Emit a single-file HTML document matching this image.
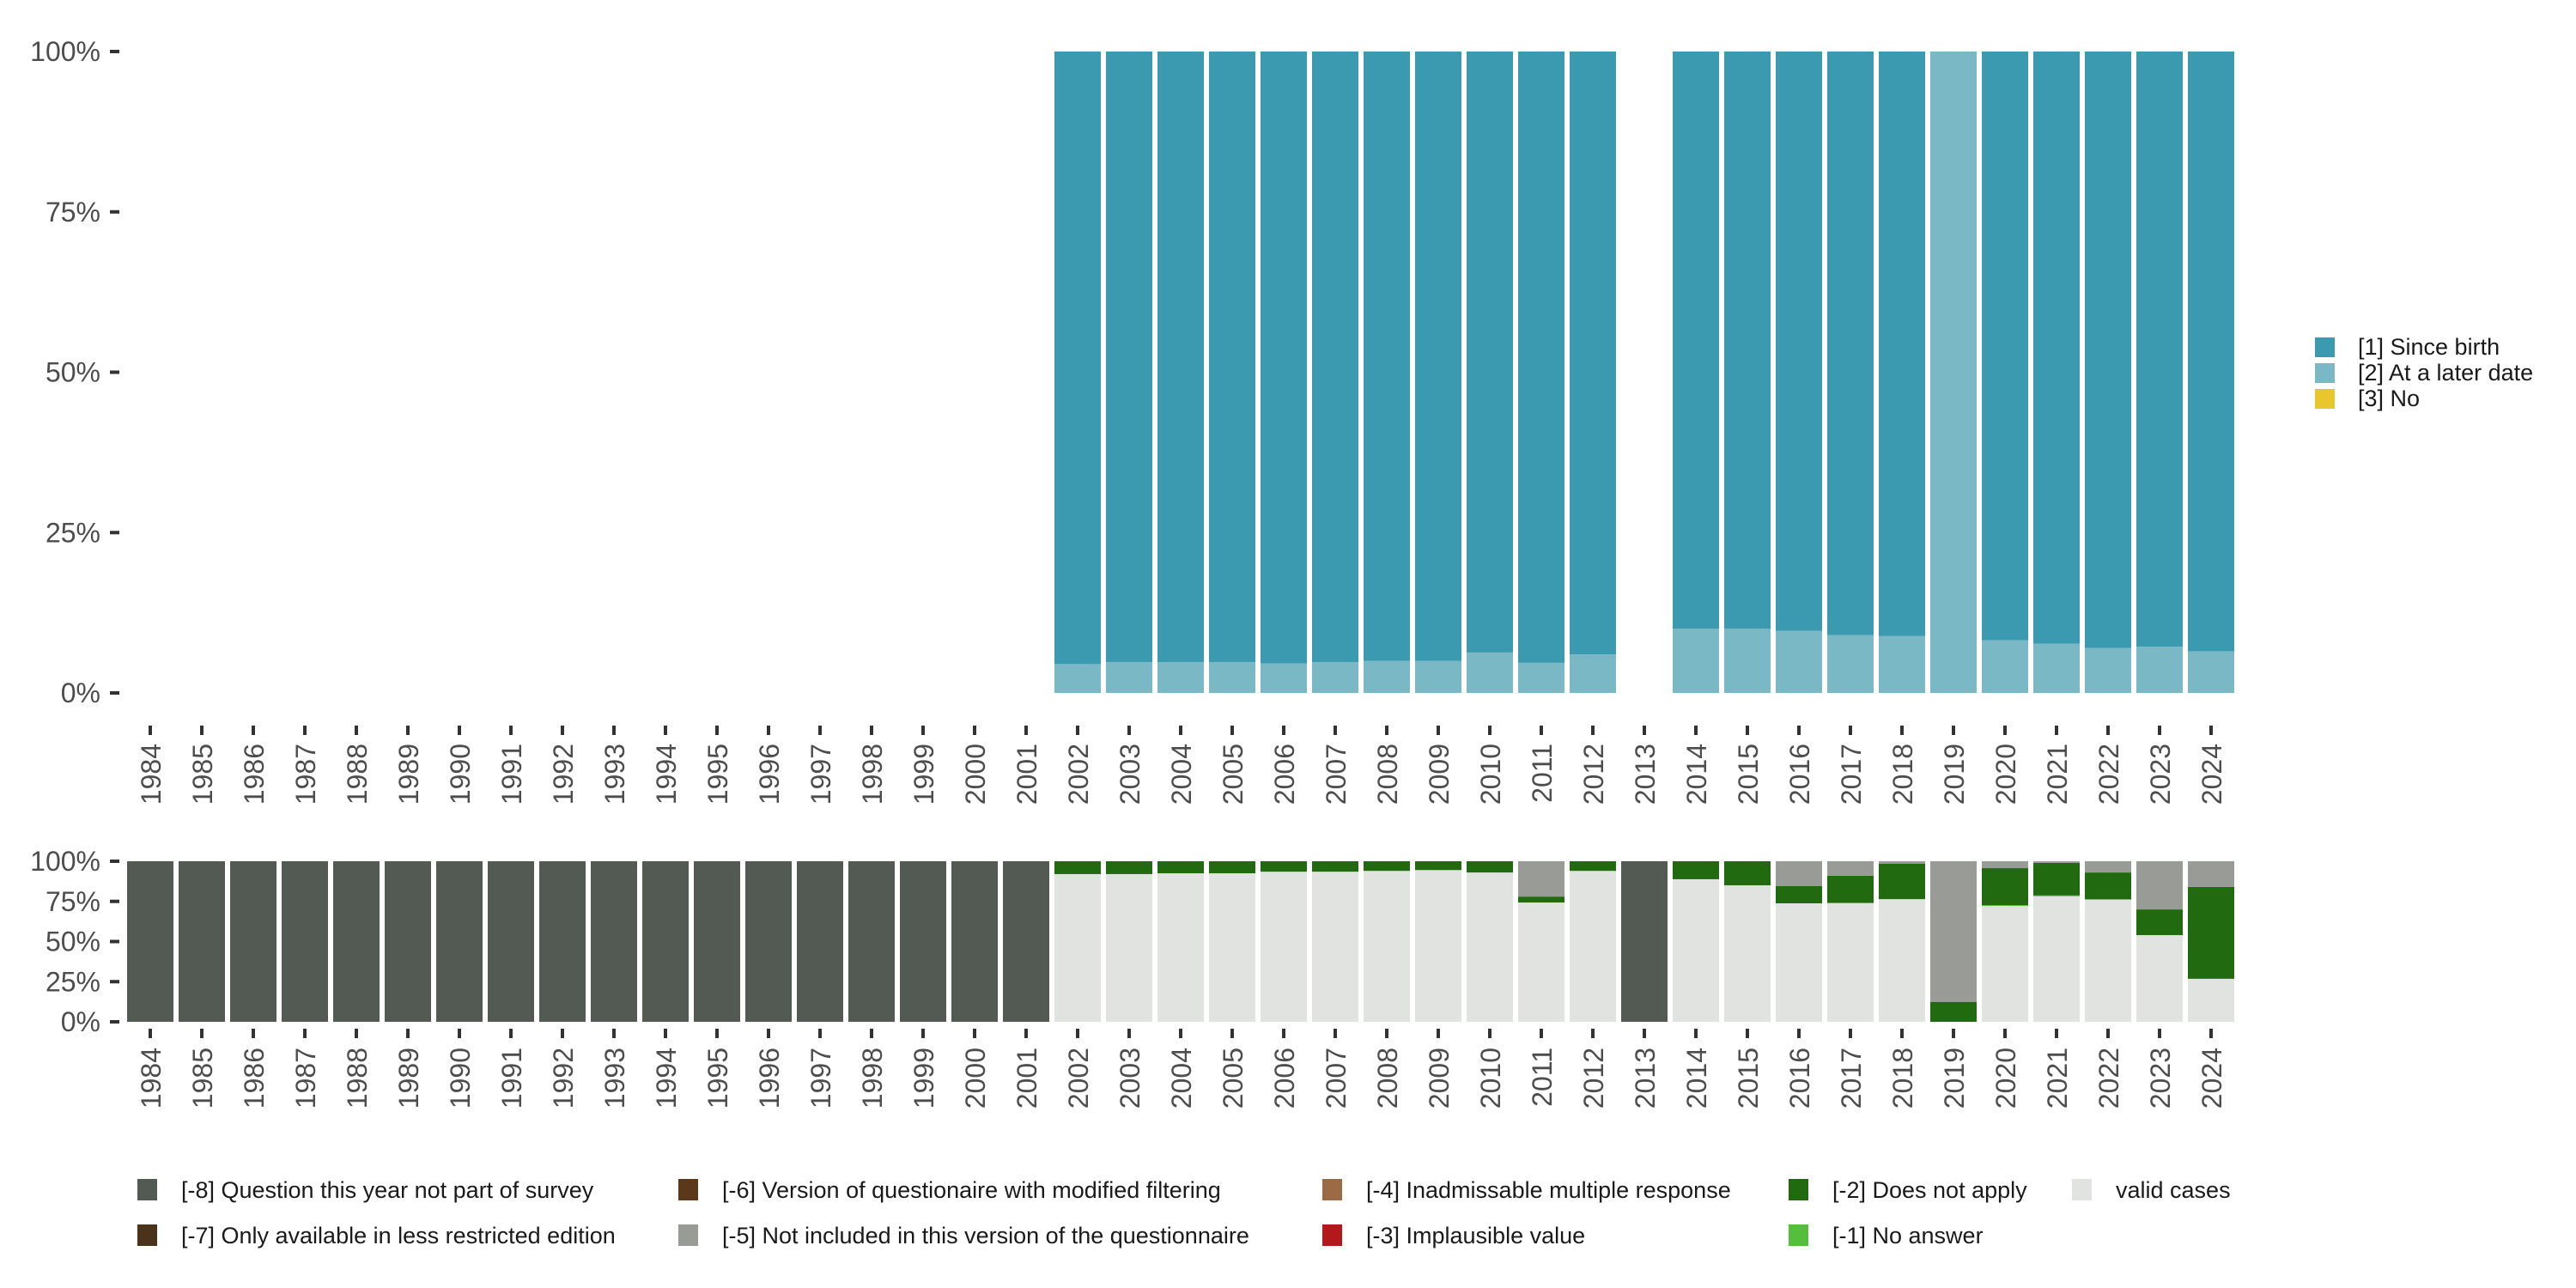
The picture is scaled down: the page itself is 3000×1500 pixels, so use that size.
<!DOCTYPE html>
<html><head><meta charset="utf-8"><style>
html,body{margin:0;padding:0;background:#fff;}
svg{display:block;font-family:"Liberation Sans","DejaVu Sans",sans-serif;}
</style></head><body>
<svg id="chart" width="3000" height="1500" viewBox="0 0 3000 1500" xmlns="http://www.w3.org/2000/svg"></svg>
<script>
const years = [];
for (let y = 1984; y <= 2024; y++) years.push(y);
// Top chart: share "[2] At a later date" (%), null = no data; remainder is "[1] Since birth"
const laterDate = [null,null,null,null,null,null,null,null,null,null,null,null,null,null,null,null,null,null,
  4.5,4.8,4.8,4.8,4.6,4.8,5,5,6.3,4.7,6,null,10,10,9.7,9,8.9,100,8.2,7.7,7,7.2,6.5];
const noShare = [null,null,null,null,null,null,null,null,null,null,null,null,null,null,null,null,null,null,
  0,0,0,0,0,0,0,0,0,0,0,null,0,0,0,0,0,0,0,0,0,0,0];
// Bottom chart shares (%)
const valid = [0,0,0,0,0,0,0,0,0,0,0,0,0,0,0,0,0,0,
  92,92,92.5,92.5,93.5,93.5,94,94.5,93,74.3,94,0,88.8,85,73.8,74,76.4,0,72.2,78.2,76,54,26.8];
const noAnswer = [0,0,0,0,0,0,0,0,0,0,0,0,0,0,0,0,0,0,
  0,0,0,0,0,0,0,0,0,0,0,0,0,0,0,0,0,0,0.5,0.5,0.4,0,0];
const notApply = [0,0,0,0,0,0,0,0,0,0,0,0,0,0,0,0,0,0,
  8,8,7.5,7.5,6.5,6.5,6,5.5,7,3.7,6,0,11.2,15,10.7,17,22,12.3,23,20.3,16.6,16,57.2];
const notIncluded = [0,0,0,0,0,0,0,0,0,0,0,0,0,0,0,0,0,0,
  0,0,0,0,0,0,0,0,0,22,0,0,0,0,15.5,9,1.6,87.7,4.3,1,7,30,16];
const notPart = [100,100,100,100,100,100,100,100,100,100,100,100,100,100,100,100,100,100,
  0,0,0,0,0,0,0,0,0,0,0,100,0,0,0,0,0,0,0,0,0,0,0];
const yTicks = [0,25,50,75,100];
const yTickLabels = ["0%","25%","50%","75%","100%"];

const svg = document.getElementById('chart');
const NS = "http://www.w3.org/2000/svg";
function mk(tag, attrs, parent){const e=document.createElementNS(NS,tag);for(const k in attrs)e.setAttribute(k,attrs[k]);(parent||svg).appendChild(e);return e;}

const x0 = 175, pitch = 60, bw = 54;
function xPos(i){return x0 + i*pitch;}
function yTop(v){return 807 - v/100*747;}
function yBot(v){return 1190 - v/100*187;}

function axes(yFn, labX, tickY, labY, name){
  yTicks.forEach((t,k)=>{
    const tk = mk('line',{x1:128,x2:139,y1:yFn(t),y2:yFn(t),stroke:'#333','stroke-width':4});
    
    
    const tx = mk('text',{x:labX,y:yFn(t)+11,'text-anchor':'end','font-size':32,fill:'#4d4d4d'});
    tx.textContent = yTickLabels[k];
    
    
  });
  years.forEach((yr,i)=>{
    const tk = mk('line',{x1:xPos(i),x2:xPos(i),y1:tickY,y2:tickY+11,stroke:'#333','stroke-width':4});
    
    
    const tx = mk('text',{x:0,y:0,'text-anchor':'end','font-size':32,fill:'#4d4d4d',transform:`translate(${xPos(i)+12},${labY}) rotate(-90)`});
    tx.textContent = yr;
    
    
  });
}

// top bars
years.forEach((yr,i)=>{
  if (laterDate[i]===null) return;
  const segs = [[noShare[i],'#e8c72c','bar-no'],[laterDate[i],'#7ab8c6','bar-later-date'],[100-laterDate[i]-noShare[i],'#3b99b0','bar-since-birth']];
  let acc = 0;
  segs.forEach(([v,c,n])=>{
    if (v<=0){return;}
    const r = mk('rect',{x:xPos(i)-bw/2,y:yTop(acc+v),width:bw,height:yTop(acc)-yTop(acc+v),fill:c});
    
    
    acc += v;
  });
});
axes(yTop, 117, 845, 866, 'top');

// bottom bars
years.forEach((yr,i)=>{
  const segs = [[valid[i],'#e0e3df','bar-valid'],[noAnswer[i],'#55be3d','bar-no-answer'],[notApply[i],'#226a0f','bar-does-not-apply'],[notIncluded[i],'#999c96','bar-not-included'],[notPart[i],'#535a53','bar-not-part']];
  let acc = 0;
  segs.forEach(([v,c,n])=>{
    if (v<=0){return;}
    const r = mk('rect',{x:xPos(i)-bw/2,y:yBot(acc+v),width:bw,height:yBot(acc)-yBot(acc+v),fill:c});
    
    
    acc += v;
  });
});
axes(yBot, 117, 1198, 1220, 'bottom');

// right legend
const topLegend = [['[1] Since birth','#3b99b0'],['[2] At a later date','#7ab8c6'],['[3] No','#e8c72c']];
topLegend.forEach(([t,c],k)=>{
  const y = 393 + k*30;
  const r = mk('rect',{x:2696,y:y,width:23,height:23,fill:c});
  
  
  const tx = mk('text',{x:2746,y:y+20,'font-size':27,fill:'#1a1a1a'});
  tx.textContent = t;
  
  
});

// bottom legend
const botLegend = [
  ['[-8] Question this year not part of survey','#535a53',160,0],
  ['[-7] Only available in less restricted edition','#4a321b',160,1],
  ['[-6] Version of questionaire with modified filtering','#5a3819',790,0],
  ['[-5] Not included in this version of the questionnaire','#999c96',790,1],
  ['[-4] Inadmissable multiple response','#9a6b45',1540,0],
  ['[-3] Implausible value','#b3191a',1540,1],
  ['[-2] Does not apply','#226a0f',2083,0],
  ['[-1] No answer','#55be3d',2083,1],
  ['valid cases','#e0e3df',2413,0]
];
botLegend.forEach(([t,c,x,row])=>{
  const cy = 1385 + row*53;
  const r = mk('rect',{x:x,y:cy-12,width:23,height:25,fill:c});
  
  
  const tx = mk('text',{x:x+51,y:cy+10,'font-size':27,fill:'#1a1a1a'});
  tx.textContent = t;
  
  
});
</script>
</body></html>
